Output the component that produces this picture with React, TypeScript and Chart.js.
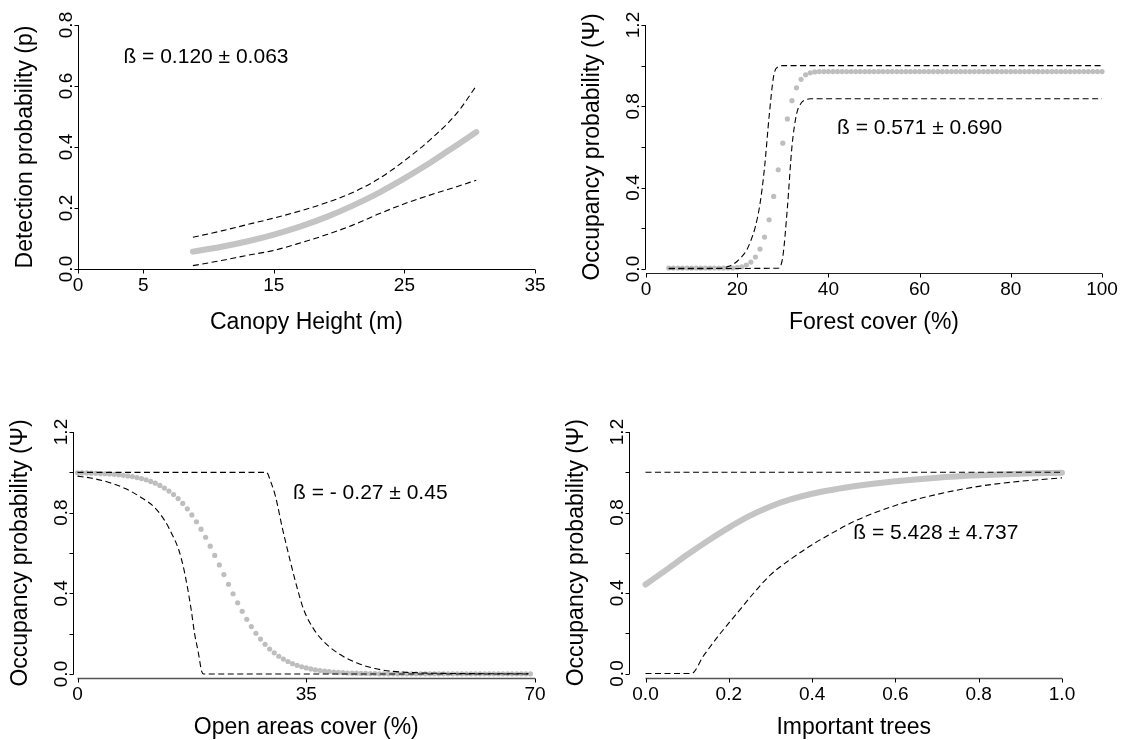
import React, { useEffect, useRef } from "react";
import { Chart, registerables } from "chart.js";

Chart.register(...registerables);

const FONT_FAMILY = '"Liberation Sans", Arial, Helvetica, sans-serif';

// ---------------- Panel A: detection probability vs canopy height ----------------
const canopyX = [8.8, 11, 13, 15, 17, 19, 21, 23, 25, 27, 29, 30.5];
const canopyMean = [0.057, 0.073, 0.091, 0.113, 0.139, 0.17, 0.207, 0.249, 0.297, 0.349, 0.406, 0.449];
const canopyUpper = [0.104, 0.125, 0.146, 0.167, 0.19, 0.217, 0.25, 0.295, 0.355, 0.425, 0.51, 0.6];
const canopyLower = [0.011, 0.028, 0.045, 0.061, 0.085, 0.112, 0.143, 0.18, 0.214, 0.243, 0.27, 0.291];
const canopyXTicks = [0, 5, 15, 25, 35];
const canopyXLabels = ["0", "5", "15", "25", "35"];
const detYTicks = [0, 0.2, 0.4, 0.6, 0.8];
const detYLabels = ["0.0", "0.2", "0.4", "0.6", "0.8"];

// ---------------- Panel B: occupancy vs forest cover ----------------
const forestX = [
  5, 6, 7, 8, 9, 10, 11, 12, 13, 14,
  15, 16, 17, 18, 19, 20, 21, 22, 23, 24,
  25, 26, 27, 28, 29, 30, 31, 32, 33, 34,
  35, 36, 37, 38, 39, 40, 41, 42, 43, 44,
  45, 46, 47, 48, 49, 50, 51, 52, 53, 54,
  55, 56, 57, 58, 59, 60, 61, 62, 63, 64,
  65, 66, 67, 68, 69, 70, 71, 72, 73, 74,
  75, 76, 77, 78, 79, 80, 81, 82, 83, 84,
  85, 86, 87, 88, 89, 90, 91, 92, 93, 94,
  95, 96, 97, 98, 99, 100,
];
const forestMean = [
  0.005, 0.005, 0.005, 0.005, 0.005, 0.005, 0.005, 0.005, 0.005, 0.005,
  0.005, 0.005, 0.005, 0.005, 0.005, 0.007, 0.011, 0.019, 0.034, 0.059,
  0.098, 0.157, 0.242, 0.357, 0.488, 0.619, 0.738, 0.828, 0.891, 0.933,
  0.955, 0.965, 0.969, 0.971, 0.971, 0.971, 0.971, 0.971, 0.971, 0.971,
  0.971, 0.971, 0.971, 0.971, 0.971, 0.971, 0.971, 0.971, 0.971, 0.971,
  0.971, 0.971, 0.971, 0.971, 0.971, 0.971, 0.971, 0.971, 0.971, 0.971,
  0.971, 0.971, 0.971, 0.971, 0.971, 0.971, 0.971, 0.971, 0.971, 0.971,
  0.971, 0.971, 0.971, 0.971, 0.971, 0.971, 0.971, 0.971, 0.971, 0.971,
  0.971, 0.971, 0.971, 0.971, 0.971, 0.971, 0.971, 0.971, 0.971, 0.971,
  0.971, 0.971, 0.971, 0.971, 0.971, 0.971,
];
const forestUpperX = [5, 16, 17, 18, 19, 20, 21, 22, 23, 24, 25, 26, 27, 28, 29, 30, 100];
const forestUpper = [0.004, 0.004, 0.006, 0.012, 0.022, 0.038, 0.06, 0.09, 0.14, 0.21, 0.32, 0.5, 0.75, 0.95, 0.995, 1.0, 1.0];
const forestLowerX = [5, 29, 30, 31, 32, 33, 34, 35, 36, 100];
const forestLower = [0.002, 0.004, 0.06, 0.3, 0.6, 0.76, 0.815, 0.832, 0.837, 0.837];
const forestXTicks = [0, 20, 40, 60, 80, 100];
const forestXLabels = ["0", "20", "40", "60", "80", "100"];
const occYTicks = [0, 0.2, 0.4, 0.6, 0.8, 1.0, 1.2];
const occYLabels = ["0.0", "", "0.4", "", "0.8", "", "1.2"];

// ---------------- Panel C: occupancy vs open areas cover ----------------
const openX = [
  0, 0.7, 1.4, 2.1, 2.8, 3.5, 4.2, 4.9, 5.6, 6.3,
  7, 7.7, 8.4, 9.1, 9.8, 10.5, 11.2, 11.9, 12.6, 13.3,
  14, 14.7, 15.4, 16.1, 16.8, 17.5, 18.2, 18.9, 19.6, 20.3,
  21, 21.7, 22.4, 23.1, 23.8, 24.5, 25.2, 25.9, 26.6, 27.3,
  28, 28.7, 29.4, 30.1, 30.8, 31.5, 32.2, 32.9, 33.6, 34.3,
  35, 35.7, 36.4, 37.1, 37.8, 38.5, 39.2, 39.9, 40.6, 41.3,
  42, 42.7, 43.4, 44.1, 44.8, 45.5, 46.2, 46.9, 47.6, 48.3,
  49, 49.7, 50.4, 51.1, 51.8, 52.5, 53.2, 53.9, 54.6, 55.3,
  56, 56.7, 57.4, 58.1, 58.8, 59.5, 60.2, 60.9, 61.6, 62.3,
  63, 63.7, 64.4, 65.1, 65.8, 66.5, 67.2, 67.9, 68.6, 69.3,
];
const openMean = [
  0.998, 0.997, 0.997, 0.996, 0.995, 0.994, 0.993, 0.992, 0.99, 0.988,
  0.985, 0.982, 0.979, 0.974, 0.969, 0.963, 0.955, 0.946, 0.935, 0.922,
  0.907, 0.89, 0.87, 0.846, 0.819, 0.789, 0.755, 0.718, 0.678, 0.634,
  0.588, 0.541, 0.493, 0.445, 0.398, 0.353, 0.311, 0.271, 0.235, 0.202,
  0.173, 0.147, 0.124, 0.105, 0.088, 0.074, 0.062, 0.051, 0.043, 0.036,
  0.03, 0.025, 0.02, 0.017, 0.014, 0.012, 0.01, 0.008, 0.007, 0.005,
  0.004, 0.004, 0.003, 0.003, 0.002, 0.002, 0.001, 0.001, 0.001, 0.001,
  0.001, 0.001, 0.001, 0.001, 0.001, 0.001, 0.001, 0.001, 0.001, 0.001,
  0.001, 0.001, 0.001, 0.001, 0.001, 0.001, 0.001, 0.001, 0.001, 0.001,
  0.001, 0.001, 0.001, 0.001, 0.001, 0.001, 0.001, 0.001, 0.001, 0.001,
];
const openUpperX = [0, 28.9, 29.6, 30.3, 31.3, 32.4, 33.5, 34.6, 36, 37.4, 40, 42.8, 45.5, 48.3, 52, 56, 69];
const openUpper = [1.0, 1.0, 0.95, 0.88, 0.73, 0.58, 0.44, 0.32, 0.23, 0.17, 0.1, 0.054, 0.027, 0.013, 0.006, 0.003, 0.001];
const openLowerX = [0, 2, 4.5, 7.3, 10, 11.7, 13.3, 14.4, 15.5, 16.3, 16.8, 17.4, 17.9, 18.5, 19.0, 19.3, 69];
const openLower = [0.981, 0.972, 0.953, 0.92, 0.87, 0.829, 0.763, 0.697, 0.615, 0.516, 0.433, 0.318, 0.203, 0.104, 0.013, 0.0, 0.0];
const openXTicks = [0, 35, 70];
const openXLabels = ["0", "35", "70"];

// ---------------- Panel D: occupancy vs important trees ----------------
const treesX = [0, 0.05, 0.1, 0.15, 0.2, 0.25, 0.3, 0.35, 0.4, 0.45, 0.5, 0.6, 0.7, 0.8, 0.9, 1.0];
const treesMean = [0.442, 0.515, 0.59, 0.66, 0.725, 0.783, 0.83, 0.866, 0.893, 0.913, 0.93, 0.955, 0.973, 0.985, 0.993, 0.997];
const treesUpperX = [0, 1];
const treesUpper = [1.0, 1.0];
const treesLowerX = [0, 0.11, 0.14, 0.18, 0.22, 0.26, 0.3, 0.35, 0.4, 0.45, 0.5, 0.6, 0.7, 0.8, 0.9, 1.0];
const treesLower = [0, 0, 0.09, 0.2, 0.3, 0.4, 0.49, 0.57, 0.64, 0.7, 0.755, 0.835, 0.89, 0.93, 0.955, 0.972];
const treesXTicks = [0, 0.2, 0.4, 0.6, 0.8, 1.0];
const treesXLabels = ["0.0", "0.2", "0.4", "0.6", "0.8", "1.0"];

// ---------------- helpers ----------------
const pts = (xs: number[], ys: number[]) => xs.map((x, i) => ({ x, y: ys[i] }));

const dashed = (xs: number[], ys: number[]) => ({
  data: pts(xs, ys),
  showLine: true,
  borderColor: "#000000",
  borderWidth: 1.1,
  borderDash: [6, 3.5],
  pointRadius: 0,
  cubicInterpolationMode: "monotone",
  fill: false,
  clip: false,
});

const dots = (xs: number[], ys: number[]) => ({
  data: pts(xs, ys),
  showLine: false,
  pointRadius: 2.6,
  pointBackgroundColor: "#bebebe",
  pointBorderColor: "#bebebe",
  pointBorderWidth: 0,
  clip: false,
});

const band = (xs: number[], ys: number[]) => ({
  data: pts(xs, ys),
  showLine: true,
  borderColor: "#c4c4c4",
  borderWidth: 6,
  borderCapStyle: "round",
  pointRadius: 0,
  cubicInterpolationMode: "monotone",
  fill: false,
  clip: false,
});

type Spec = {
  left: number;
  top: number;
  padding: { left: number; right: number; top: number; bottom: number };
  xMin: number;
  xMax: number;
  yMin: number;
  yMax: number;
  xTicks: number[];
  xLabels: string[];
  yTicks: number[];
  yLabels: string[];
  yAxisDx: number;
  xAxisDy: number;
  xAxisColor: string;
  xAxisWidth: number;
  xTitle: string;
  yTitle: string;
  xTitleDy: number;
  note: string;
  noteX: number;
  noteY: number;
  datasets: any[];
};

function axesPlugin(s: Spec) {
  return {
    id: "rStyleAxes",
    afterDraw(chart: any) {
      const ctx = chart.ctx as CanvasRenderingContext2D;
      const xs = chart.scales.x;
      const ys = chart.scales.y;
      const px = (v: number) => xs.getPixelForValue(v);
      const py = (v: number) => ys.getPixelForValue(v);
      const xFirst = s.xTicks[0];
      const xLast = s.xTicks[s.xTicks.length - 1];
      const yFirst = s.yTicks[0];
      const yLast = s.yTicks[s.yTicks.length - 1];
      const axX = Math.round(px(xFirst) + s.yAxisDx) + 0.5;
      const axY = Math.round(py(yFirst) + s.xAxisDy) + 0.5;

      ctx.save();
      ctx.lineCap = "butt";
      ctx.setLineDash([]);

      // y axis + ticks
      ctx.strokeStyle = "#000";
      ctx.lineWidth = 1;
      ctx.beginPath();
      ctx.moveTo(axX, py(yFirst) + 0.5);
      ctx.lineTo(axX, py(yLast));
      s.yTicks.forEach((t) => {
        const y = Math.round(py(t)) + 0.5;
        ctx.moveTo(axX, y);
        ctx.lineTo(axX - 4, y);
      });
      ctx.stroke();

      // x axis + ticks
      ctx.strokeStyle = s.xAxisColor;
      ctx.lineWidth = s.xAxisWidth;
      ctx.beginPath();
      ctx.moveTo(px(xFirst), axY);
      ctx.lineTo(px(xLast), axY);
      ctx.stroke();
      ctx.strokeStyle = "#000";
      ctx.lineWidth = 1;
      ctx.beginPath();
      s.xTicks.forEach((t) => {
        const x = Math.round(px(t)) + 0.5;
        ctx.moveTo(x, axY);
        ctx.lineTo(x, axY + 4);
      });
      ctx.stroke();

      // tick labels
      ctx.fillStyle = "#000";
      ctx.font = `19px ${FONT_FAMILY}`;
      ctx.textAlign = "center";
      ctx.textBaseline = "alphabetic";
      s.xTicks.forEach((t, i) => {
        ctx.fillText(s.xLabels[i], px(t), axY + 21);
      });
      s.yTicks.forEach((t, i) => {
        if (!s.yLabels[i]) return;
        ctx.save();
        ctx.translate(axX - 7, py(t));
        ctx.rotate(-Math.PI / 2);
        ctx.fillText(s.yLabels[i], 0, 0);
        ctx.restore();
      });

      // axis titles
      ctx.font = `23px ${FONT_FAMILY}`;
      ctx.fillText(s.xTitle, (px(xFirst) + px(xLast)) / 2, axY + s.xTitleDy);
      ctx.save();
      ctx.translate(axX - 47, (py(yFirst) + py(yLast)) / 2);
      ctx.rotate(-Math.PI / 2);
      ctx.fillText(s.yTitle, 0, 0);
      ctx.restore();

      // coefficient note
      ctx.font = `21px ${FONT_FAMILY}`;
      ctx.textBaseline = "middle";
      ctx.fillText(s.note, px(s.noteX), py(s.noteY));

      ctx.restore();
    },
  };
}

const PANEL_W = 562;
const PANEL_H = 370;

const specs: Spec[] = [
  {
    left: 0,
    top: 0,
    padding: { left: 78, right: 27, top: 25, bottom: 101 },
    xMin: 0,
    xMax: 35,
    yMin: 0,
    yMax: 0.8,
    xTicks: canopyXTicks,
    xLabels: canopyXLabels,
    yTicks: detYTicks,
    yLabels: detYLabels,
    yAxisDx: 0,
    xAxisDy: 0,
    xAxisColor: "#000",
    xAxisWidth: 1,
    xTitle: "Canopy Height (m)",
    yTitle: "Detection probability (p)",
    xTitleDy: 59,
    note: "ß = 0.120 ± 0.063",
    noteX: 9.8,
    noteY: 0.696,
    datasets: [
      dashed(canopyX, canopyUpper),
      dashed(canopyX, canopyLower),
      band(canopyX, canopyMean),
    ],
  },
  {
    left: 562,
    top: 0,
    padding: { left: 84, right: 22, top: 25, bottom: 101 },
    xMin: 0,
    xMax: 100,
    yMin: 0,
    yMax: 1.2,
    xTicks: forestXTicks,
    xLabels: forestXLabels,
    yTicks: occYTicks,
    yLabels: occYLabels,
    yAxisDx: -1,
    xAxisDy: 4,
    xAxisColor: "#222",
    xAxisWidth: 1.2,
    xTitle: "Forest cover (%)",
    yTitle: "Occupancy probability (Ψ)",
    xTitleDy: 55,
    note: "ß = 0.571 ± 0.690",
    noteX: 60,
    noteY: 0.69,
    datasets: [
      dashed(forestUpperX, forestUpper),
      dashed(forestLowerX, forestLower),
      dots(forestX, forestMean),
    ],
  },
  {
    left: 0,
    top: 370,
    padding: { left: 77.5, right: 27, top: 62, bottom: 66 },
    xMin: 0,
    xMax: 70,
    yMin: 0,
    yMax: 1.2,
    xTicks: openXTicks,
    xLabels: openXLabels,
    yTicks: occYTicks,
    yLabels: occYLabels,
    yAxisDx: -4.5,
    xAxisDy: 4,
    xAxisColor: "#555",
    xAxisWidth: 1.6,
    xTitle: "Open areas cover (%)",
    yTitle: "Occupancy probability (Ψ)",
    xTitleDy: 55,
    note: "ß = - 0.27 ± 0.45",
    noteX: 44.8,
    noteY: 0.896,
    datasets: [
      dashed(openUpperX, openUpper),
      dashed(openLowerX, openLower),
      dots(openX, openMean),
    ],
  },
  {
    left: 562,
    top: 370,
    padding: { left: 83.5, right: 62, top: 62, bottom: 66.5 },
    xMin: 0,
    xMax: 1,
    yMin: 0,
    yMax: 1.2,
    xTicks: treesXTicks,
    xLabels: treesXLabels,
    yTicks: occYTicks,
    yLabels: occYLabels,
    yAxisDx: -16.5,
    xAxisDy: 4.5,
    xAxisColor: "#555",
    xAxisWidth: 1.6,
    xTitle: "Important trees",
    yTitle: "Occupancy probability (Ψ)",
    xTitleDy: 55,
    note: "ß = 5.428 ± 4.737",
    noteX: 0.697,
    noteY: 0.696,
    datasets: [
      dashed(treesUpperX, treesUpper),
      dashed(treesLowerX, treesLower),
      band(treesX, treesMean),
    ],
  },
];

function Panel({ spec }: { spec: Spec }) {
  const ref = useRef<HTMLCanvasElement | null>(null);
  useEffect(() => {
    if (!ref.current) return;
    const chart = new Chart(ref.current, {
      type: "scatter",
      data: { datasets: spec.datasets as any },
      options: {
        responsive: false,
        animation: false,
        events: [],
        devicePixelRatio: 1,
        layout: { padding: spec.padding },
        plugins: {
          legend: { display: false },
          tooltip: { enabled: false },
          title: { display: false },
        },
        scales: {
          x: { type: "linear", display: false, min: spec.xMin, max: spec.xMax },
          y: { type: "linear", display: false, min: spec.yMin, max: spec.yMax },
        },
      } as any,
      plugins: [axesPlugin(spec) as any],
    });
    return () => chart.destroy();
  }, [spec]);
  return (
    <canvas
      ref={ref}
      width={PANEL_W}
      height={PANEL_H}
      style={{
        position: "absolute",
        left: spec.left,
        top: spec.top,
        width: PANEL_W,
        height: PANEL_H,
        display: "block",
      }}
    />
  );
}

export default function App() {
  return (
    <div
      style={{
        position: "absolute",
        left: 0,
        top: 0,
        width: 1124,
        height: 740,
        background: "#ffffff",
        overflow: "hidden",
      }}
    >
      {specs.map((s, i) => (
        <Panel key={i} spec={s} />
      ))}
    </div>
  );
}
